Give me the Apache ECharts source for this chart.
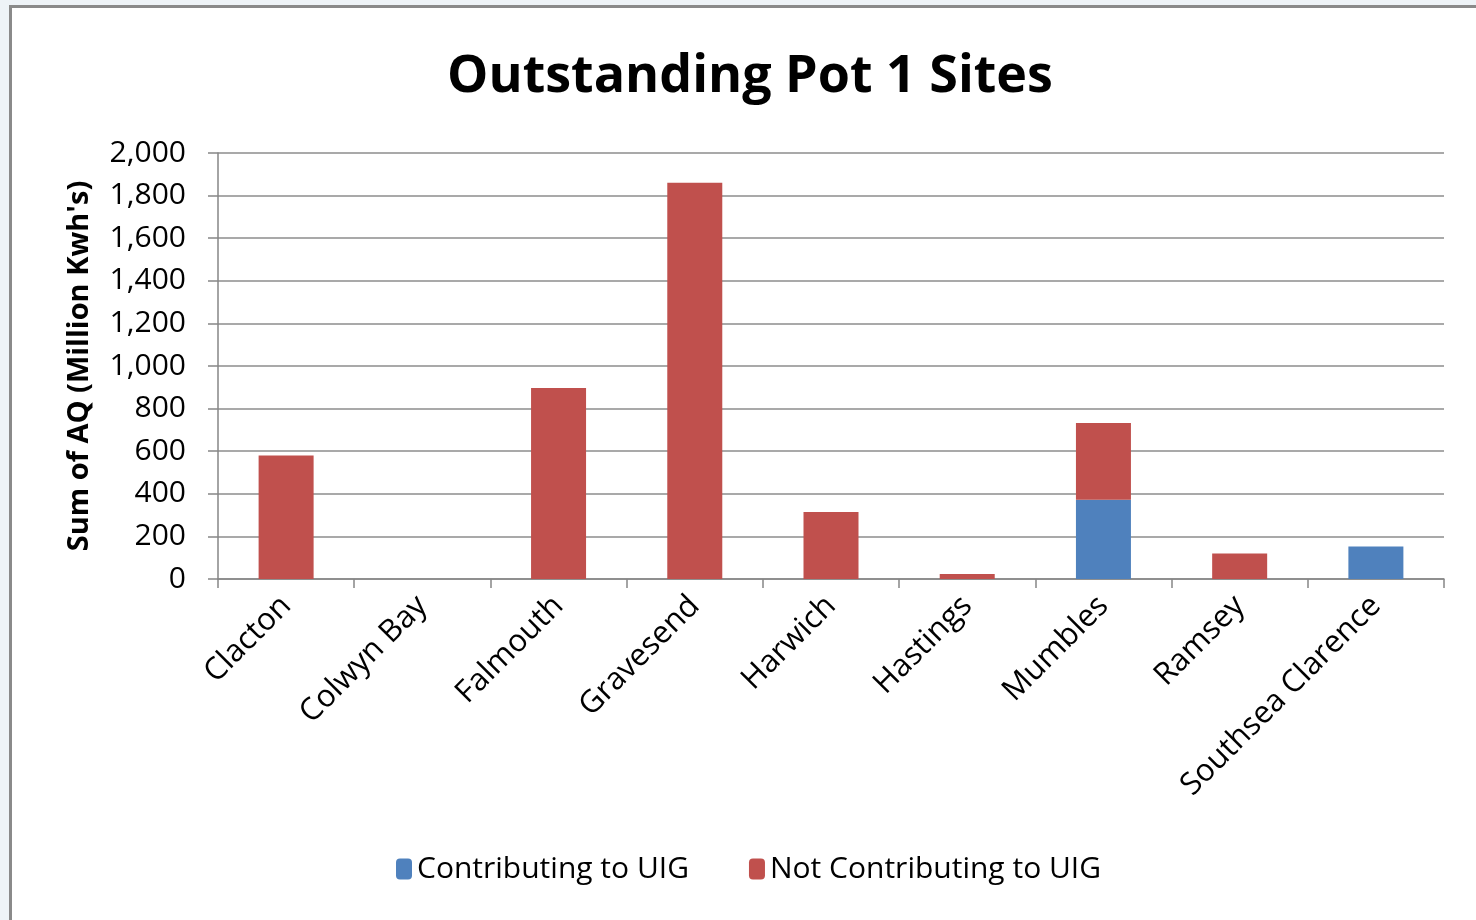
<!DOCTYPE html>
<html>
<head>
<meta charset="utf-8">
<script src="https://cdn.jsdelivr.net/npm/echarts@6/dist/echarts.min.js"></script>
<style>
  html, body { margin: 0; padding: 0; width: 1476px; height: 920px; overflow: hidden; background: #eef3f7; }
  #frame { position: absolute; left: 9px; top: 5px; width: 1600px; height: 1000px; background: #fff;
           border-left: 3px solid #8a8a8a; border-top: 3px solid #8a8a8a; }
  #main { position: absolute; left: 0; top: 0; width: 1476px; height: 920px; }
</style>
</head>
<body>
<div id="frame"></div>
<div id="main"></div>
<script>
// sites along the x axis
var sites = ["Clacton", "Colwyn Bay", "Falmouth", "Gravesend", "Harwich", "Hastings", "Mumbles", "Ramsey", "Southsea Clarence"];
// Sum of AQ (Million Kwh's)
var contributing = [0, 0, 0, 0, 0, 0, 372, 0, 152];
var notContributing = [580, 0, 897, 1860, 315, 23, 360, 120, 0];

var font = "'Open Sans', 'Noto Sans', sans-serif";
var chart = echarts.init(document.getElementById("main"));

var option = {
  animation: false,
  textStyle: { fontFamily: font },
  title: {
    text: "Outstanding Pot 1 Sites",
    left: 745,
    textAlign: "center",
    top: 46,
    textStyle: { fontSize: 52, fontWeight: "bold", color: "#000", fontFamily: font }
  },
  legend: {
    bottom: 31,
    left: 391,
    itemWidth: 16,
    itemHeight: 21,
    itemGap: 60,
    textStyle: { fontSize: 30, color: "#000", fontFamily: font },
    data: ["Contributing to UIG", "Not Contributing to UIG"]
  },
  grid: { left: 218, right: 32, top: 153, bottom: 341, containLabel: false },
  xAxis: {
    type: "category",
    data: sites,
    axisLine: { lineStyle: { color: "#868686", width: 1.5 } },
    axisTick: { show: true, length: 9, lineStyle: { color: "#868686", width: 1.5 } },
    axisLabel: { rotate: 45, fontSize: 31, color: "#000", margin: 22, interval: 0 }
  },
  yAxis: {
    type: "value",
    min: 0,
    max: 2000,
    interval: 200,
    name: "Sum of AQ (Million Kwh's)",
    nameLocation: "middle",
    nameGap: 124,
    nameTextStyle: { fontSize: 29, fontWeight: "bold", color: "#000" },
    axisLine: { show: true, lineStyle: { color: "#868686", width: 1.5 } },
    axisTick: { show: true, length: 10, lineStyle: { color: "#868686", width: 1.5 } },
    axisLabel: {
      fontSize: 30, color: "#000", margin: 32,
      formatter: function (v) { return v.toLocaleString("en-US"); }
    },
    splitLine: { lineStyle: { color: "#8c8c8c", width: 1.5 } }
  },
  series: [
    {
      name: "Contributing to UIG",
      type: "bar",
      stack: "aq",
      data: contributing,
      barWidth: 55,
      itemStyle: { color: "#4f81bd" }
    },
    {
      name: "Not Contributing to UIG",
      type: "bar",
      stack: "aq",
      data: notContributing,
      barWidth: 55,
      itemStyle: { color: "#c0504d" }
    }
  ]
};

chart.setOption(option);
</script>
</body>
</html>
